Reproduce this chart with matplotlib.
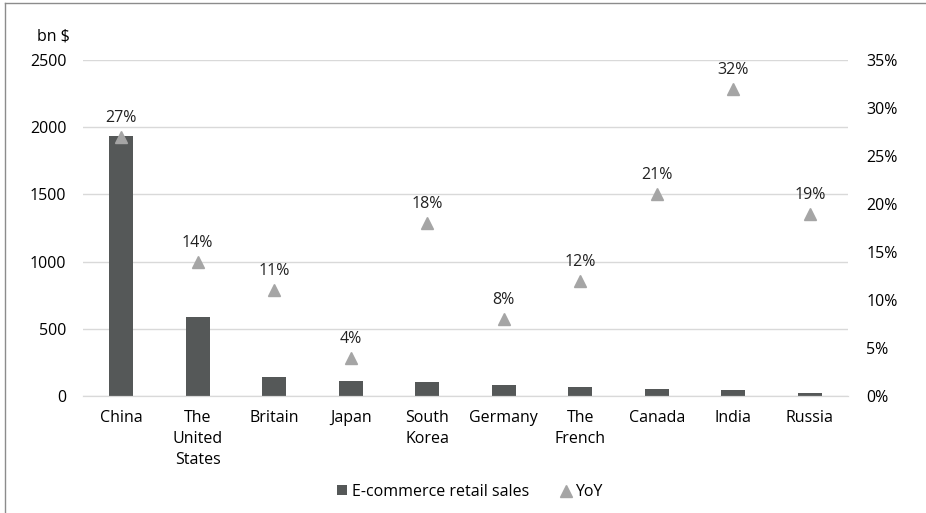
import matplotlib.pyplot as plt
from matplotlib.lines import Line2D
import numpy as np

plt.rcParams['font.family'] = ['Open Sans', 'DejaVu Sans']

countries = ['China', 'The\nUnited\nStates', 'Britain', 'Japan', 'South\nKorea',
             'Germany', 'The\nFrench', 'Canada', 'India', 'Russia']
sales = [1936, 587, 141, 115, 101, 84, 69, 50, 45, 24]   # bn $
yoy = [27, 14, 11, 4, 18, 8, 12, 21, 32, 19]              # %

bar_color = '#555858'
tri_color = '#A5A5A5'
grid_color = '#D9D9D9'
fs = 11.5

fig = plt.figure(figsize=(9.26, 5.13), dpi=100)
ax = fig.add_axes([0.0896, 0.228, 0.8262, 0.655])
ax2 = ax.twinx()

x = np.arange(len(countries))
ax.bar(x, sales, width=0.31, color=bar_color, zorder=2, label='E-commerce retail sales')
ax.set_ylim(0, 2500)
ax.set_yticks(np.arange(0, 2501, 500))
ax.set_xlim(-0.5, len(countries) - 0.5)
ax.set_xticks(x)
ax.set_xticklabels(countries, fontsize=fs, linespacing=1.42)
ax.yaxis.grid(True, color=grid_color, linewidth=1)
ax.set_axisbelow(True)
ax.tick_params(axis='y', length=0, pad=12, labelsize=fs)
ax.tick_params(axis='x', length=0, pad=10)

ax2.plot(x, yoy, linestyle='none', marker='^', markersize=9, color=tri_color,
         zorder=3, label='YoY')
for xi, v in zip(x, yoy):
    ax2.annotate(f'{v}%', (xi, v), xytext=(0, 8), textcoords='offset points',
                 ha='center', va='bottom', fontsize=fs, color='#222222')
ax2.set_ylim(0, 35)
ax2.set_yticks(np.arange(0, 36, 5))
ax2.set_yticklabels([f'{v}%' for v in range(0, 36, 5)])
ax2.tick_params(axis='y', length=0, pad=13, labelsize=fs)

for a in (ax, ax2):
    for side in ('top', 'right', 'left'):
        a.spines[side].set_visible(False)
    a.spines['bottom'].set_color(grid_color)

fig.text(70 / 926, 1 - 37 / 513, 'bn $', ha='right', va='center', fontsize=fs)

h1, l1 = ax.get_legend_handles_labels()
h2, l2 = ax2.get_legend_handles_labels()
fig.legend(h1 + h2, l1 + l2, loc='center', bbox_to_anchor=(470 / 926, 1 - 492 / 513),
           ncol=2, frameon=False, fontsize=fs, handlelength=0.6, handleheight=0.6,
           handletextpad=0.3, columnspacing=2.0, markerscale=0.9)

# partial frame along the left and top edges
fig.add_artist(Line2D([5 / 926, 5 / 926], [0, 1 - 3 / 513], transform=fig.transFigure,
                      color='#8C8C8C', linewidth=1))
fig.add_artist(Line2D([5 / 926, 1], [1 - 3 / 513, 1 - 3 / 513], transform=fig.transFigure,
                      color='#8C8C8C', linewidth=1))

fig.savefig('out.png', dpi=100)
